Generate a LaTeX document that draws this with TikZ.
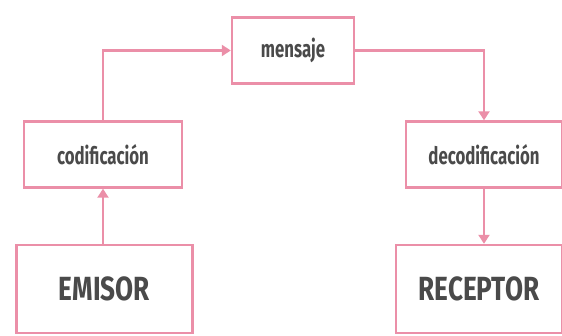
\documentclass[tikz,border=0pt]{standalone}
\usepackage{fontspec}
\setmainfont{Fira Sans}[FakeStretch=0.78]
\newfontfamily\minus{Fira Sans}[FakeStretch=0.7]
\usetikzlibrary{arrows.meta}
\definecolor{rosa}{HTML}{EB8FA8}
\definecolor{texto}{HTML}{4A4A4A}
\tikzstyle{caja}=[draw=rosa,line width=2.4pt,fill=white,text=texto,inner sep=0pt]
\tikzstyle{chica}=[caja,minimum height=66,font=\minus\fontsize{24}{26}\selectfont\bfseries]
\tikzstyle{grande}=[caja,minimum height=88,font=\fontsize{33.5}{36}\selectfont\bfseries]
\tikzstyle{flecha}=[draw=rosa,line width=2.2pt,-{Triangle[length=9pt,width=11pt]}]

\begin{document}
\begin{tikzpicture}[x=1pt,y=1pt]
	\useasboundingbox (0,0) rectangle (562,335);
	% cajas
	\node[chica,minimum width=122] (mensaje) at (293,284.5) {mensaje};
	\node[chica,minimum width=158] (codif) at (103,180.5) {codificación};
	\node[chica,minimum width=156] (decodif) at (484,180.5) {decodificación};
	\node[grande,minimum width=176] (emisor) at (104.5,46) {EMISOR};
	\node[grande,minimum width=166] (receptor) at (479,46) {RECEPTOR};
	% flechas
	\draw[flecha] (emisor.north -| codif.south) -- (codif.south);
	\draw[flecha] (codif.north) |- (mensaje.west);
	\draw[flecha] (mensaje.east) -| (decodif.north);
	\draw[flecha] (decodif.south) -- (decodif.south |- receptor.north);
\end{tikzpicture}
\end{document}
